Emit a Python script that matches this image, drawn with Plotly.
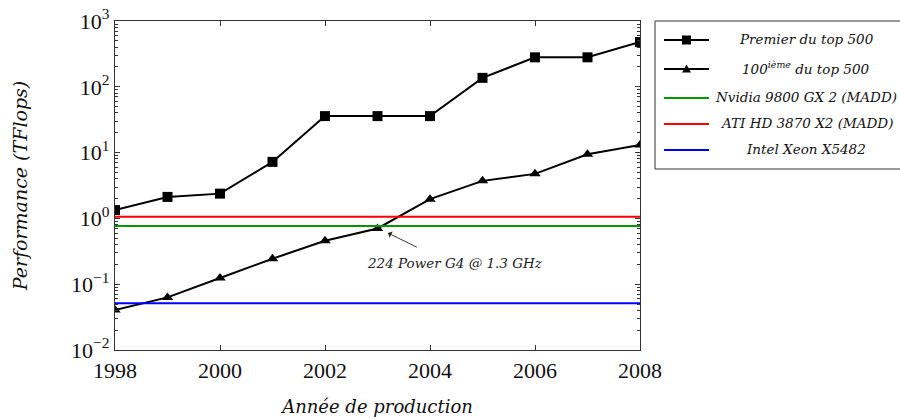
import math
import plotly.graph_objects as go

years = [1998, 1999, 2000, 2001, 2002, 2003, 2004, 2005, 2006, 2007, 2008]
premier = [1.338, 2.121, 2.379, 7.226, 35.86, 35.86, 35.86, 136.8, 280.6, 280.6, 478.2]
centieme = [0.0405, 0.063, 0.124, 0.244, 0.457, 0.703, 1.96, 3.72, 4.75, 9.46, 13.1]
nvidia = 0.768
ati = 1.056
xeon = 0.0512

names = ["Premier du top 500", "100<sup>ième</sup> du top 500",
         "Nvidia 9800 GX 2 (MADD)", "ATI HD 3870 X2 (MADD)", "Intel Xeon X5482"]
ytickvals = [0.01, 0.1, 1, 10, 100, 1000]
yticktext = ["10<sup>−2</sup>", "10<sup>−1</sup>", "10<sup>0</sup>",
             "10<sup>1</sup>", "10<sup>2</sup>", "10<sup>3</sup>"]
xtickvals = [1998, 2000, 2002, 2004, 2006, 2008]
annot_text = "224 Power G4 @ 1.3 GHz"

serif_it = "DejaVu Serif"
tick_font = "Liberation Serif"
GREEN, RED, BLUE = "#009a00", "#ff0000", "#0000ff"
colors = ["black", "black", GREEN, RED, BLUE]

# plot area in pixels
L, R, T, B = 115, 640, 21, 350
W, H = 900, 419


def px(x):
    return (x - L) / (R - L)


def py(y):
    return (B - y) / (B - T)


fig = go.Figure()
fig.add_trace(go.Scatter(x=years, y=premier, mode="lines+markers", name=names[0],
                         line=dict(color="black", width=2),
                         marker=dict(symbol="square", size=10, color="black")))
fig.add_trace(go.Scatter(x=years, y=centieme, mode="lines+markers", name=names[1],
                         line=dict(color="black", width=2),
                         marker=dict(symbol="triangle-up", size=10, color="black")))
fig.add_trace(go.Scatter(x=[years[0], years[-1]], y=[nvidia, nvidia], mode="lines",
                         name=names[2], line=dict(color=GREEN, width=2)))
fig.add_trace(go.Scatter(x=[years[0], years[-1]], y=[ati, ati], mode="lines",
                         name=names[3], line=dict(color=RED, width=2)))
fig.add_trace(go.Scatter(x=[years[0], years[-1]], y=[xeon, xeon], mode="lines",
                         name=names[4], line=dict(color=BLUE, width=2)))

fig.add_annotation(x=2003.2, y=math.log10(0.6), ax=2003.78, ay=math.log10(0.355),
                   xref="x", yref="y", axref="x", ayref="y", text="",
                   showarrow=True, arrowhead=1, arrowsize=1.3, arrowwidth=0.9, arrowcolor="#222")
fig.add_annotation(x=2004.48, y=math.log10(0.21), xref="x", yref="y", text=annot_text,
                   showarrow=False,
                   font=dict(family=serif_it, size=13.5, color="#222", style="italic"))

# custom legend (centred labels like the reference)
shapes = [dict(type="rect", xref="paper", yref="paper", x0=px(655), x1=px(901),
               y0=py(169), y1=py(21), line=dict(color="#333", width=1), fillcolor="white",
               layer="above")]
row_y = [40, 69, 98, 124, 150]
for i, (nm, c) in enumerate(zip(names, colors)):
    yy = row_y[i]
    shapes.append(dict(type="line", xref="paper", yref="paper", x0=px(664), x1=px(709),
                       y0=py(yy), y1=py(yy), line=dict(color=c, width=2), layer="above"))
    fig.add_annotation(x=px(806), y=py(yy - 1), xref="paper", yref="paper", text=nm,
                       showarrow=False, xanchor="center", yanchor="middle",
                       font=dict(family=serif_it, size=13.5, color="#111", style="italic"))
# legend marker samples
cx = 686.5
shapes.append(dict(type="rect", xref="paper", yref="paper", x0=px(cx - 4.5), x1=px(cx + 4.5),
                   y0=py(row_y[0] + 4.5), y1=py(row_y[0] - 4.5),
                   fillcolor="black", line=dict(color="black", width=0), layer="above"))
ty = row_y[1]
shapes.append(dict(type="path", xref="paper", yref="paper",
                   path=f"M {px(cx-4.5)} {py(ty+3.5)} L {px(cx+4.5)} {py(ty+3.5)} L {px(cx)} {py(ty-4.5)} Z",
                   fillcolor="black", line=dict(color="black", width=0), layer="above"))

minor_y = [m * 10 ** e for e in range(-2, 3) for m in range(2, 10)]

fig.update_xaxes(range=[1998, 2008], tickvals=xtickvals, ticks="inside", ticklen=5,
                 mirror="allticks", showline=True, linecolor="#333", linewidth=1.2,
                 tickcolor="#333", showgrid=False, zeroline=False, automargin=False,
                 tickfont=dict(family=tick_font, size=22, color="#111"),
                 title=dict(text="Année de production",
                            font=dict(family=serif_it, size=18, color="#111", style="italic"),
                            standoff=18))
fig.update_yaxes(type="log", range=[-2, 3], tickvals=ytickvals, ticktext=yticktext,
                 ticks="inside", ticklen=5, mirror="allticks", showline=True,
                 linecolor="#333", linewidth=1.2, tickcolor="#333", showgrid=False,
                 zeroline=False, automargin=False,
                 minor=dict(tickvals=minor_y, ticks="inside", ticklen=3, tickcolor="#333", showgrid=False),
                 tickfont=dict(family=tick_font, size=22, color="#111"),
                 title=dict(text="Performance (TFlops)",
                            font=dict(family=serif_it, size=19, color="#111", style="italic"),
                            standoff=38))

fig.update_layout(width=W, height=H, margin=dict(l=L, r=W - R, t=T, b=H - B),
                  plot_bgcolor="white", paper_bgcolor="white",
                  shapes=shapes, showlegend=False)
fig.write_html("out.html")
